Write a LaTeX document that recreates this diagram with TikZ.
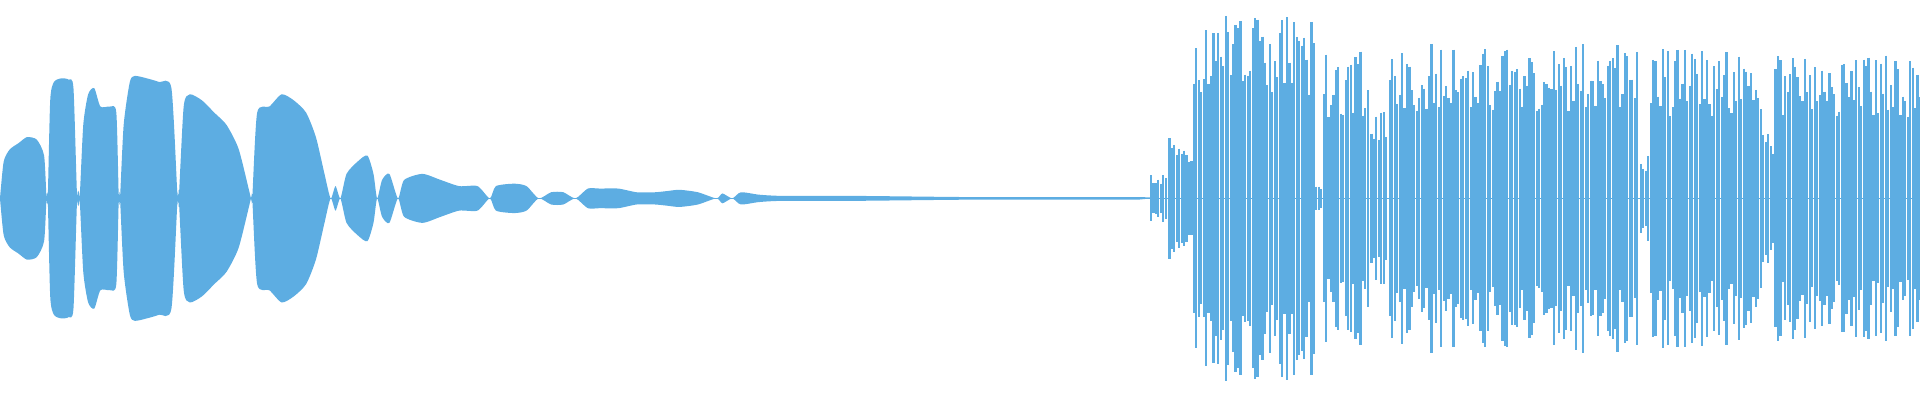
\documentclass[tikz,border=0pt]{standalone}
\definecolor{wave}{RGB}{93,173,226}
\begin{document}
\begin{tikzpicture}[x=1.2245pt,y=-1.2245pt]
\useasboundingbox (0,0) rectangle (1568,327);
\pgfmathsetseed{7}
\def\cy{162}
\fill[wave] plot[smooth,tension=0.4] coordinates {(0,162)(3,132)(8,122)(15,117)(22,112)(30,114)(36,127)(38,162)
(39,162)(41,82)(44,67)(50,64)(56,65)(60,72)(63,162)
(65,162)(68,102)(72,77)(77,72)(82,87)(90,87)(95,92)(97,162)
(98,162)(101,102)(106,67)(110,62)(120,64)(130,67)(140,72)(145,162)
(146,162)(150,87)(155,77)(165,82)(175,92)(185,102)(195,122)(205,162)
(206,162)(210,92)(220,87)(230,77)(240,82)(250,92)(258,112)(265,142)(270,162)
(274,152)(278,162)(283,142)(292,132)(300,127)(305,142)(308,162)
(312,147)(318,142)(325,162)(330,147)(345,142)(360,147)(375,152)(390,152)(400,162)
(405,152)(420,150)(430,152)(440,162)(450,157)(460,157)(470,162)(480,154)(490,154)(505,154)(520,157)(535,157)(545,156)(555,155)(570,157)(585,162)(590,158)(598,162)(605,157)(620,159)(640,160)(700,160)(800,161)(930,161)(940,162)}
-- plot[smooth,tension=0.4] coordinates {(930,163)(800,163)(700,164)(640,164)(620,165)(605,167)(598,162)(590,166)(585,162)(570,167)(555,169)(545,168)(535,167)(520,167)(505,170)(490,170)(480,170)(470,162)(460,167)(450,167)(440,162)(430,172)(420,174)(405,172)(400,162)(390,172)(375,172)(360,177)(345,182)(330,177)(325,162)(318,182)(312,177)(308,162)(305,182)(300,197)(292,192)(283,182)(278,162)(274,172)(270,162)(265,182)(258,212)(250,232)(240,242)(230,247)(220,237)(210,232)(206,162)
(205,162)(195,202)(185,222)(175,232)(165,242)(155,247)(150,237)(146,162)
(145,162)(140,252)(130,257)(120,260)(110,262)(106,257)(101,222)(98,162)
(97,162)(95,232)(90,237)(82,237)(77,252)(72,247)(68,222)(65,162)
(63,162)(60,252)(56,259)(50,260)(44,257)(41,242)(39,162)
(38,162)(36,197)(30,210)(22,212)(15,207)(8,202)(3,192)(0,162)} -- cycle;
\draw[wave,line width=0.8] (0,162)--(1568,162);
\foreach \a/\b/\m in {940/955/20,955/975/50,975/1075/150,1075/1081/10,1081/1120/120,1120/1135/80,1135/1340/128,1340/1348/40,1348/1440/122,1440/1450/60,1450/1620/118,1620/1680/100,1680/1700/60,1700/1910/130,1910/1918/115}{
  \pgfmathtruncatemacro\bb{\b-2}
  \foreach \x in {\a,\the\numexpr\a+2\relax,...,\bb}{
    \pgfmathsetmacro\r{\m*(0.55+0.45*rnd)}
    \draw[wave,line width=2.2pt] (\x,\cy-\r) -- (\x,\cy+\r);
  }
}
\end{tikzpicture}
\end{document}
